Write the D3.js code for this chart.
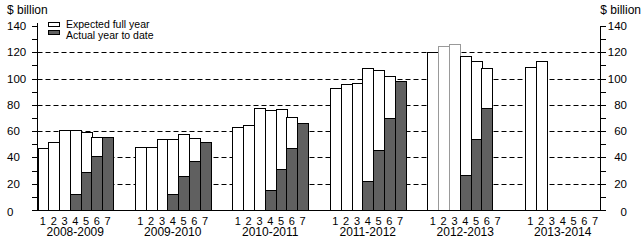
<!DOCTYPE html>
<html>
<head>
<meta charset="utf-8">
<script src="https://cdn.jsdelivr.net/npm/d3@7"></script>
<style>
body { margin: 0; background: #fff; }
svg text { font-family: "Liberation Sans", Arial, sans-serif; fill: #000; }
</style>
</head>
<body>
<svg id="chart" width="644" height="240"></svg>
<script>
var years = ['2008-2009', '2009-2010', '2010-2011', '2011-2012', '2012-2013', '2013-2014'];
var months = ['1', '2', '3', '4', '5', '6', '7'];

// expected full year, per reporting month
var expected = [
    [47, 51.5, 60.5, 60.5, 59.5, 55.5, null],
    [48, 48, 54, 54, 57.5, 54.5, null],
    [63.5, 65, 77.5, 76, 76.5, 70.5, null],
    [92.5, 95.5, 97, 108, 106.5, 102, null],
    [120, 125, 126, 117, 113, 108, null],
    [109, 113, null, null, null, null, null]
];

// actual year to date
var actual = [
    [null, null, null, 12, 29, 41, 55.5],
    [null, null, null, 12, 25.5, 37, 51.5],
    [null, null, null, 15, 31.5, 47, 66],
    [null, null, null, 22, 46, 70, 98],
    [null, null, null, 27, 54, 77.5, null],
    [null, null, null, null, null, null, null]
];

// bars drawn with a grey outline in the original
var greyBars = ['2012-2013|2', '2012-2013|3'];

var yTicks = [0, 20, 40, 60, 80, 100, 120, 140];
var gridTicks = [20, 40, 60, 80, 100, 120];

var plotLeft = 37.5, plotRight = 600.5, plotTop = 26, plotBottom = 210;

var svg = d3.select('#chart');

var x0 = d3.scaleBand().domain(years).range([plotLeft, plotRight]).paddingInner(0.225).paddingOuter(0);
var x1 = d3.scaleBand().domain(months).range([0, x0.bandwidth()]);
var y = d3.scaleLinear().domain([0, 140]).range([plotBottom, plotTop]);

// grid
svg.append('g').selectAll('line')
    .data(gridTicks).enter().append('line')
    .attr('x1', plotLeft).attr('x2', plotRight)
    .attr('y1', function(d) { return Math.round(y(d)) + 0.5; })
    .attr('y2', function(d) { return Math.round(y(d)) + 0.5; })
    .attr('stroke', '#000')
    .attr('stroke-dasharray', '5,3');

// bars
var rows = [];
years.forEach(function(yr, i) {
    months.forEach(function(m, j) {
        rows.push({ year: yr, month: m, exp: expected[i][j], act: actual[i][j] });
    });
});

var bars = svg.append('g').attr('shape-rendering', 'crispEdges');
rows.forEach(function(r) {
    var bx = Math.round(x0(r.year) + x1(r.month)) + 0.5;
    var bw = Math.round(x1.bandwidth());
    var grey = greyBars.indexOf(r.year + '|' + r.month) >= 0;
    if(r.exp != null)
        bars.append('rect')
            .attr('x', bx).attr('width', bw)
            .attr('y', Math.round(y(r.exp)) + 0.5)
            .attr('height', Math.round(y(0)) - Math.round(y(r.exp)))
            .attr('fill', '#fff')
            .attr('stroke', grey ? '#999' : '#000');
    if(r.act != null)
        bars.append('rect')
            .attr('x', bx).attr('width', bw)
            .attr('y', Math.round(y(r.act)) + 0.5)
            .attr('height', Math.round(y(0)) - Math.round(y(r.act)))
            .attr('fill', '#606060')
            .attr('stroke', '#000');
});

// axes
var minor = d3.range(0, 141, 10);
var ax = svg.append('g').attr('stroke', '#000').attr('shape-rendering', 'crispEdges');
ax.append('line').attr('x1', plotLeft).attr('x2', plotLeft).attr('y1', plotTop - 3).attr('y2', plotBottom);
ax.append('line').attr('x1', plotRight).attr('x2', plotRight).attr('y1', plotTop).attr('y2', plotBottom);
ax.append('line').attr('x1', plotLeft).attr('x2', plotRight).attr('y1', plotBottom + 0.5).attr('y2', plotBottom + 0.5);
minor.forEach(function(v) {
    var ty = Math.round(y(v)) + 0.5;
    ax.append('line').attr('x1', plotLeft - 6).attr('x2', plotLeft).attr('y1', ty).attr('y2', ty);
    ax.append('line').attr('x1', plotRight).attr('x2', plotRight + 5).attr('y1', ty).attr('y2', ty);
});

var lab = svg.append('g').style('font-size', '11.5px');
yTicks.forEach(function(v) {
    var ty = y(v) + 4 + (v == 0 ? 1.5 : 0);
    lab.append('text').attr('x', 7).attr('y', ty).text(v);
    lab.append('text').attr('x', 627).attr('y', ty).attr('text-anchor', 'end').text(v);
});

lab.append('text').attr('x', 7).attr('y', 14).style('font-size', '12px').text('$ billion');
lab.append('text').attr('x', 641).attr('y', 14).attr('text-anchor', 'end').style('font-size', '12px').text('$ billion');

// x labels
rows.forEach(function(r) {
    lab.append('text')
        .attr('x', x0(r.year) + x1(r.month) + x1.bandwidth() / 2)
        .attr('y', 224.5)
        .attr('text-anchor', 'middle')
        .style('font-size', '11px')
        .text(r.month);
});
years.forEach(function(yr) {
    lab.append('text')
        .attr('x', x0(yr) + x0.bandwidth() / 2)
        .attr('y', 236)
        .attr('text-anchor', 'middle')
        .style('font-size', '12px')
        .text(yr);
});

// legend
var leg = svg.append('g');
leg.append('rect').attr('x', 48.5).attr('y', 22.5).attr('width', 11).attr('height', 4)
    .attr('fill', '#fff').attr('stroke', '#000').attr('shape-rendering', 'crispEdges');
leg.append('rect').attr('x', 48.5).attr('y', 30.5).attr('width', 11).attr('height', 4)
    .attr('fill', '#606060').attr('stroke', '#000').attr('shape-rendering', 'crispEdges');
leg.append('text').attr('x', 66).attr('y', 28).style('font-size', '10.5px').text('Expected full year');
leg.append('text').attr('x', 66).attr('y', 38.5).style('font-size', '10.5px').text('Actual year to date');
</script>
</body>
</html>
